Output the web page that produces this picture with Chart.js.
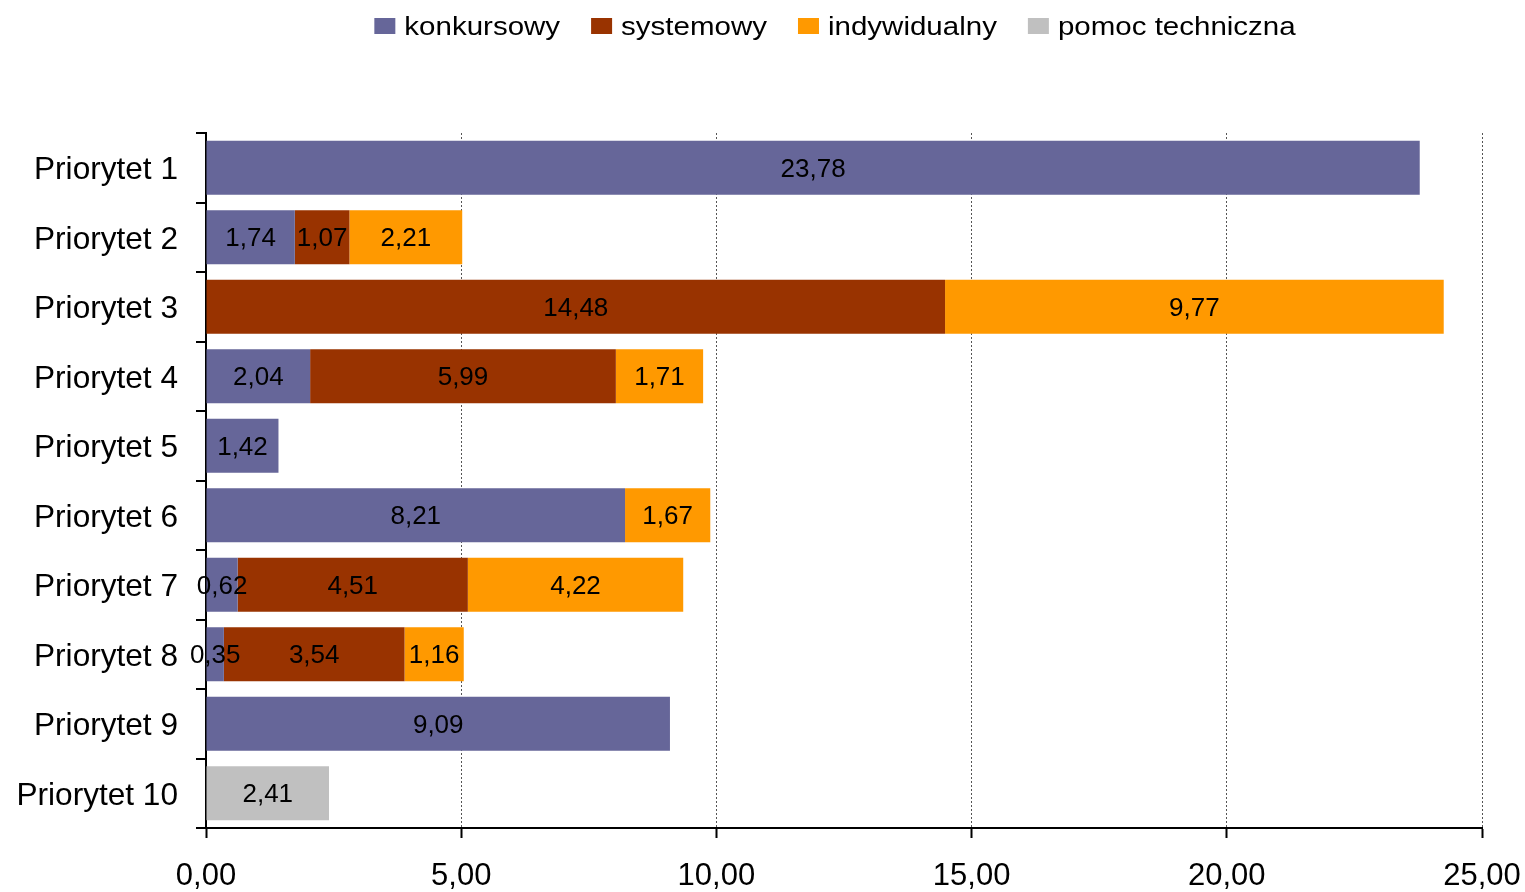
<!DOCTYPE html>
<html>
<head>
<meta charset="utf-8">
<script src="https://cdn.jsdelivr.net/npm/chart.js@4/dist/chart.umd.min.js"></script>
<style>
  html, body { margin: 0; padding: 0; background: #fff; }
  #wrap { width: 1525px; height: 892px; }
</style>
</head>
<body>
<div id="wrap"><canvas id="chart"></canvas></div>
<script>
// categories and series
const priorities = ['Priorytet 1', 'Priorytet 2', 'Priorytet 3', 'Priorytet 4', 'Priorytet 5',
    'Priorytet 6', 'Priorytet 7', 'Priorytet 8', 'Priorytet 9', 'Priorytet 10'];
const konkursowy   = [23.78, 1.74, null, 2.04, 1.42, 8.21, 0.62, 0.35, 9.09, null];
const systemowy    = [null, 1.07, 14.48, 5.99, null, null, 4.51, 3.54, null, null];
const indywidualny = [null, 2.21, 9.77, 1.71, null, 1.67, 4.22, 1.16, null, null];
const pomoc        = [null, null, null, null, null, null, null, null, null, 2.41];
const xTicks = [0, 5, 10, 15, 20, 25];

const FONT = "'Liberation Sans', Arial, sans-serif";

const fmt = v => v.toFixed(2).replace('.', ',');

// value labels in the middle of each segment
const barLabels = {
    id: 'barLabels',
    afterDatasetsDraw(chart) {
        const ctx = chart.ctx;
        ctx.save();
        ctx.font = '26px ' + FONT;
        ctx.fillStyle = '#000';
        ctx.textAlign = 'center';
        ctx.textBaseline = 'middle';
        chart.data.datasets.forEach((ds, i) => {
            const meta = chart.getDatasetMeta(i);
            meta.data.forEach((el, j) => {
                const v = ds.data[j];
                if (v == null) return;
                const p = el.getCenterPoint();
                ctx.fillText(fmt(v), p.x, p.y + 2);
            });
        });
        ctx.restore();
    }
};

// legend drawn by hand: the original text is a bit wide, so stretch it
const topLegend = {
    id: 'topLegend',
    afterDraw(chart) {
        const ctx = chart.ctx;
        const stretch = 1.18, boxW = 21, boxH = 16, gap = 9, itemGap = 31;
        ctx.save();
        ctx.font = '25px ' + FONT;
        const items = chart.data.datasets.map(ds => ({
            text: ds.label,
            color: ds.backgroundColor,
            w: ctx.measureText(ds.label).width * stretch
        }));
        let total = items.reduce((s, it) => s + boxW + gap + it.w, 0) + itemGap * (items.length - 1);
        const area = chart.chartArea;
        let x = (area.left + area.right) / 2 - 9 - total / 2;
        const cy = 26;
        items.forEach(it => {
            ctx.fillStyle = it.color;
            ctx.fillRect(x, cy - boxH / 2, boxW, boxH);
            x += boxW + gap;
            ctx.save();
            ctx.translate(x, 35);
            ctx.scale(stretch, 1);
            ctx.fillStyle = '#000';
            ctx.textAlign = 'left';
            ctx.textBaseline = 'alphabetic';
            ctx.fillText(it.text, 0, 0);
            ctx.restore();
            x += it.w + itemGap;
        });
        ctx.restore();
    }
};

new Chart(document.getElementById('chart'), {
    type: 'bar',
    data: {
        labels: priorities,
        datasets: [
            { label: 'konkursowy', data: konkursowy, backgroundColor: '#666699' },
            { label: 'systemowy', data: systemowy, backgroundColor: '#993300' },
            { label: 'indywidualny', data: indywidualny, backgroundColor: '#FF9900' },
            { label: 'pomoc techniczna', data: pomoc, backgroundColor: '#C0C0C0' }
        ]
    },
    options: {
        indexAxis: 'y',
        responsive: true,
        maintainAspectRatio: false,
        animation: false,
        datasets: {
            bar: { barPercentage: 0.78, categoryPercentage: 1.0 }
        },
        layout: { padding: { left: 1, right: 43, top: 133, bottom: 0 } },
        plugins: {
            legend: { display: false },
            tooltip: { enabled: false }
        },
        scales: {
            x: {
                stacked: true,
                min: 0,
                max: 25,
                afterBuildTicks(axis) { axis.ticks = xTicks.map(v => ({ value: v })); },
                afterFit(axis) {
                    axis.height = 64;
                    axis.paddingRight = 0;
                },
                ticks: {
                    color: '#000',
                    font: { family: FONT, size: 31 },
                    padding: 20,
                    maxRotation: 0,
                    callback: v => fmt(v)
                },
                grid: {
                    color: '#555',
                    lineWidth: 1,
                    tickColor: '#000',
                    tickWidth: 2,
                    tickLength: 10,
                    tickBorderDash: [1, 0]
                },
                border: { color: '#000', width: 2, dash: [2, 2] }
            },
            y: {
                stacked: true,
                afterFit(axis) { axis.width = 205; },
                ticks: {
                    color: '#000',
                    font: { family: FONT, size: 31.6 },
                    padding: 18,
                    labelOffset: 3
                },
                grid: {
                    offset: true,
                    drawOnChartArea: false,
                    color: '#000',
                    lineWidth: 2,
                    tickLength: 10
                },
                border: { color: '#000', width: 2 }
            }
        }
    },
    plugins: [barLabels, topLegend]
});
</script>
</body>
</html>
